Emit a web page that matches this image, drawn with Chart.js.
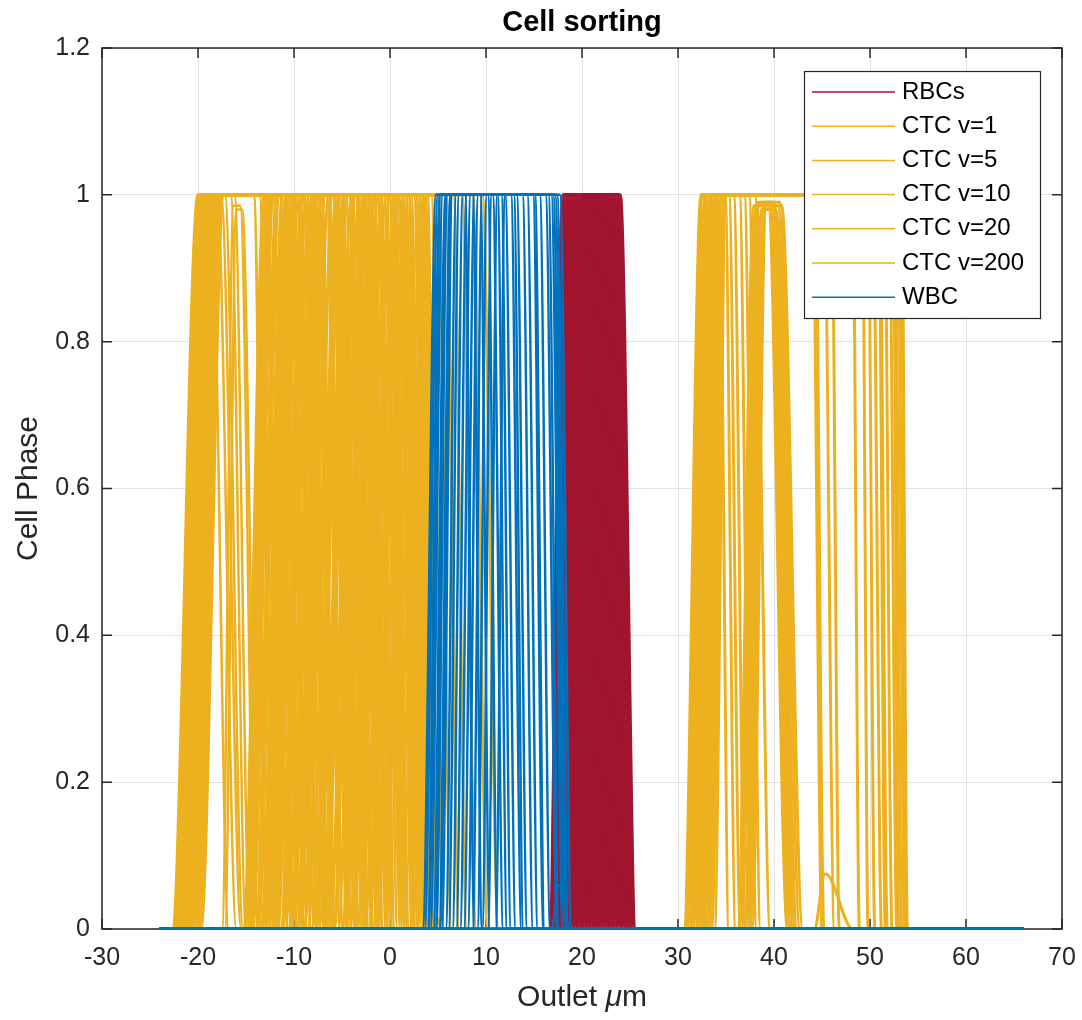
<!DOCTYPE html>
<html>
<head>
<meta charset="utf-8">
<title>Cell sorting</title>
<script src="https://cdn.jsdelivr.net/npm/chart.js@4.4.1/dist/chart.umd.min.js"></script>
<style>
  html, body { margin: 0; padding: 0; background: #fff; }
  canvas { display: block; }
</style>
</head>
<body>
<canvas id="cellChart" width="1082" height="1020"></canvas>
<script>
// Each trace: [rise foot, rise top, fall top, fall foot, peak phase (default 1)]
// positions in outlet µm, phase on the y axis.

const xTicks = [-30, -20, -10, 0, 10, 20, 30, 40, 50, 60, 70];
const yTicks = [0, 0.2, 0.4, 0.6, 0.8, 1, 1.2];

// every trajectory sits on phase 0 from the inlet to the outlet edge
const baseStart = -24;
const baseEnd = 66;

const seriesLabels = ['RBCs', 'CTC v=1', 'CTC v=5', 'CTC v=10', 'CTC v=20', 'CTC v=200', 'WBC'];

const rbcTraces = [
  [16.6, 18.0, 19.8, 21.4], [16.75, 18.15, 19.95, 21.55], [16.9, 18.3, 20.1, 21.7],
  [17.05, 18.45, 20.2, 21.8], [17.2, 18.6, 20.35, 21.95], [17.35, 18.75, 20.5, 22.1],
  [17.5, 18.9, 20.6, 22.2], [17.65, 19.05, 20.75, 22.35], [17.8, 19.2, 20.9, 22.5],
  [17.95, 19.35, 21.0, 22.6], [18.1, 19.5, 21.15, 22.75], [18.25, 19.65, 21.3, 22.9],
  [18.4, 19.8, 21.4, 23.0], [18.55, 19.95, 21.55, 23.15], [18.7, 20.1, 21.7, 23.3],
  [18.85, 20.25, 21.8, 23.4], [19.0, 20.4, 21.95, 23.55], [19.15, 20.55, 22.1, 23.7],
  [19.3, 20.7, 22.2, 23.8], [19.45, 20.85, 22.35, 23.95], [19.6, 21.0, 22.5, 24.1],
  [19.75, 21.15, 22.6, 24.2], [19.9, 21.3, 22.75, 24.35], [20.05, 21.45, 22.9, 24.5],
  [20.2, 21.6, 23.0, 24.6], [20.35, 21.75, 23.15, 24.75], [20.5, 21.9, 23.3, 24.9],
  [20.65, 22.05, 23.4, 25.0], [20.8, 22.2, 23.55, 25.15], [20.95, 22.35, 23.7, 25.3],
  [21.1, 22.5, 23.85, 25.45], [21.25, 22.65, 24.0, 25.6]
];

const ctcV1 = [
  [-22.7, -20.0, -14.2, -12.8], [-22.6, -19.9, -13.6, -12.0], [-22.5, -19.8, -12.9, -11.4],
  [-22.4, -19.7, -12.2, -10.6], [-22.3, -19.6, -11.5, -10.0], [-22.2, -19.5, -10.9, -9.3],
  [-22.0, -19.4, -10.1, -8.6], [-21.9, -19.3, -9.4, -7.9], [-21.8, -19.2, -8.6, -7.2],
  [-21.6, -19.0, -7.9, -6.4], [-21.5, -18.9, -7.1, -5.7], [-21.3, -18.8, -6.4, -4.9],
  [-21.2, -18.6, -5.6, -4.2], [-21.0, -18.5, -4.9, -3.4], [-20.9, -18.4, -4.1, -2.7],
  [-20.7, -18.2, -3.4, -1.9], [-20.6, -18.1, -2.6, -1.2], [-20.4, -17.9, -1.9, -0.4],
  [-20.2, -17.8, -1.1, 0.3], [-20.1, -17.6, -0.4, 1.1], [-19.9, -17.4, 0.4, 1.8],
  [-19.7, -17.3, 1.1, 2.6]
];

const ctcV5 = [
  [-15.3, -13.1, -9.0, -7.6], [-15.1, -12.9, -8.2, -6.8], [-14.9, -12.7, -7.4, -6.0],
  [-14.7, -12.5, -6.6, -5.2], [-14.5, -12.3, -5.8, -4.4], [-14.3, -12.1, -5.0, -3.6],
  [-14.0, -11.8, -4.3, -2.9], [-13.7, -11.5, -3.6, -2.2], [-13.4, -11.2, -2.8, -1.4],
  [-13.0, -10.8, -2.1, -0.7], [-12.6, -10.4, -1.3, 0.1], [-12.2, -10.0, -0.6, 0.8],
  [-11.7, -9.5, 0.2, 1.6], [-11.2, -9.0, 0.9, 2.3], [-10.6, -8.4, 1.6, 3.0],
  [-10.0, -7.8, 2.2, 3.6], [-9.3, -7.1, 2.7, 4.0], [-8.6, -6.4, 3.1, 4.3],
  [-7.8, -5.6, 3.4, 4.6], [-7.0, -4.8, 3.7, 4.8], [-6.2, -4.0, 3.9, 5.0],
  [-5.4, -3.2, 4.3, 5.6], [-4.6, -2.4, 5.0, 6.4], [-3.8, -1.6, 5.8, 7.2],
  [-3.0, -0.8, 6.6, 8.0], [-2.2, 0.0, 7.5, 9.0], [-1.4, 0.8, 8.6, 10.2],
  [-0.6, 1.6, 9.6, 11.3]
];

const ctcV10 = [
  [-22.1, -19.6, -18.6, -16.8], [-21.7, -19.4, -18.0, -16.0], [-21.4, -19.1, -17.6, -15.5],
  [-21.1, -18.9, -17.2, -15.3], [-20.8, -18.7, -16.6, -15.0], [-21.5, -19.0, -16.2, -14.6],
  [-17.5, -16.3, -15.6, -14.0, 0.985], [-17.2, -16.0, -15.4, -13.7, 0.98],
  [-14.6, -12.4, -3.3, -1.8], [-13.1, -10.9, 1.4, 2.9], [-12.1, -9.9, -7.6, -6.1],
  [-11.1, -8.9, 3.3, 4.4], [-10.2, -8.0, -5.2, -3.7], [-9.5, -7.3, 0.0, 1.5],
  [-8.9, -6.7, -4.0, -2.4], [-7.6, -5.4, 2.0, 3.5], [-6.8, -4.6, -2.9, -1.3],
  [-5.9, -3.7, 3.6, 4.5], [-4.9, -2.7, -1.7, -0.1], [-3.9, -1.7, 0.8, 2.4],
  [-2.6, -0.4, 2.8, 4.1], [-1.8, 0.4, 3.5, 4.6], [-22.0, -19.5, -8.3, -6.9],
  [-21.4, -18.9, -2.3, -0.8], [-20.5, -18.0, 1.7, 3.1], [-20.0, -17.6, -6.0, -4.5],
  [-13.5, -12.0, -11.6, -10.2, 0.3], [-12.0, -10.8, -10.4, -9.0, 0.22],
  [-10.5, -9.4, -9.0, -7.6, 0.15], [-9.0, -8.0, -7.5, -6.2, 0.1],
  [2.0, 3.2, 3.5, 5.5, 0.07]
];

const ctcV20 = [
  [-15.2, -13.0, -11.0, -9.6], [-14.8, -12.6, -10.3, -8.9], [-14.4, -12.2, -9.7, -8.2],
  [-13.9, -11.7, -8.9, -7.5], [-13.3, -11.1, -8.0, -6.6], [-12.8, -10.6, -7.2, -5.8],
  [-12.4, -10.2, -6.3, -4.9], [-11.9, -9.7, -5.4, -4.0], [-11.4, -9.2, -4.6, -3.2],
  [-10.9, -8.7, -3.9, -2.5], [-10.3, -8.1, -3.1, -1.7], [-9.7, -7.5, -2.4, -1.0],
  [-9.0, -6.8, -1.6, -0.2], [-8.2, -6.0, -0.9, 0.5], [-7.4, -5.2, -0.1, 1.3],
  [-6.6, -4.4, 0.6, 2.0], [-5.8, -3.6, 1.3, 2.7], [-5.0, -2.8, 1.9, 3.3],
  [-4.2, -2.0, 2.5, 3.8], [-3.4, -1.2, 3.0, 4.2],
  [30.6, 32.4, 36.4, 37.6], [30.8, 32.5, 35.8, 37.0], [31.0, 32.6, 38.0, 39.6],
  [31.2, 32.8, 34.9, 36.0], [31.4, 33.0, 37.4, 38.6], [31.6, 33.2, 34.3, 35.3],
  [31.8, 33.4, 36.9, 38.2], [32.0, 33.6, 44.3, 45.2], [32.2, 33.8, 35.3, 36.5],
  [32.5, 34.0, 46.0, 46.8], [32.8, 34.2, 49.2, 49.8], [33.1, 34.5, 51.0, 51.8],
  [33.4, 34.8, 52.6, 53.3], [33.8, 35.0, 53.2, 53.8]
];

const ctcV200 = [
  [36.2, 37.9, 39.4, 41.4, 0.985], [36.4, 38.1, 39.6, 41.6, 0.985], [36.6, 38.3, 39.8, 41.8, 0.99],
  [36.9, 38.5, 40.0, 42.0, 0.99], [37.1, 38.7, 40.2, 42.2, 0.98], [37.3, 38.9, 40.4, 42.4, 0.985],
  [37.5, 39.1, 40.6, 42.7, 0.99], [37.7, 39.2, 40.8, 43.0, 0.985],
  [32.0, 33.6, 44.0, 45.0], [32.3, 33.9, 45.2, 46.3], [31.5, 33.1, 48.2, 48.9],
  [32.6, 34.1, 49.8, 50.5], [33.0, 34.4, 50.3, 51.2], [31.9, 33.5, 50.9, 51.6],
  [32.4, 34.0, 51.5, 52.3], [33.2, 34.6, 52.0, 52.8], [31.3, 32.9, 52.4, 53.0],
  [32.7, 34.2, 52.9, 53.6], [33.5, 34.9, 53.3, 53.9],
  [44.2, 45.3, 45.4, 48.2, 0.075]
];

const wbcTraces = [
  [3.6, 5.0, 17.2, 18.4], [3.9, 5.2, 16.8, 18.0], [4.2, 5.5, 14.9, 16.0],
  [4.5, 5.8, 17.4, 18.6], [4.8, 6.0, 13.8, 14.9], [5.1, 6.3, 16.2, 17.4],
  [5.4, 6.5, 12.6, 13.7], [5.8, 6.9, 15.6, 16.7], [6.1, 7.2, 11.6, 12.6],
  [6.5, 7.6, 14.3, 15.4], [6.9, 8.0, 10.7, 11.8], [7.3, 8.4, 13.2, 14.3],
  [7.7, 8.8, 12.0, 13.1], [8.1, 9.2, 10.2, 11.2], [8.6, 9.6, 11.2, 12.2],
  [9.1, 10.1, 15.1, 16.1], [9.6, 10.6, 12.9, 13.9], [10.2, 11.2, 16.5, 17.6],
  [4.0, 5.3, 8.6, 9.6], [4.7, 5.9, 9.4, 10.4], [5.2, 6.4, 7.8, 8.8],
  [11.0, 12.0, 17.0, 18.2], [3.4, 4.8, 17.7, 18.9],
  [16.8, 17.6, 17.8, 18.7, 0.06]
];

const FONT = '"Liberation Sans", Arial, Helvetica, sans-serif';
const AXIS_COLOR = '#262626';
const GRID_COLOR = '#e2e2e2';
const RBC_COLOR = '#A2142F';
const CTC_COLOR = '#EDB120';
const WBC_COLOR = '#0072BD';

const groups = [
  { label: seriesLabels[0], traces: rbcTraces, color: RBC_COLOR, width: 3, order: 2 },
  { label: seriesLabels[1], traces: ctcV1, color: CTC_COLOR, width: 3, order: 1 },
  { label: seriesLabels[2], traces: ctcV5, color: CTC_COLOR, width: 3, order: 1 },
  { label: seriesLabels[3], traces: ctcV10, color: CTC_COLOR, width: 2.5, order: 1 },
  { label: seriesLabels[4], traces: ctcV20, color: CTC_COLOR, width: 3, order: 1 },
  { label: seriesLabels[5], traces: ctcV200, color: CTC_COLOR, width: 3, order: 1 },
  { label: seriesLabels[6], traces: wbcTraces, color: WBC_COLOR, width: 2.5, order: 0 }
];

function makeTrace(trace, group) {
  const [riseFoot, riseTop, fallTop, fallFoot, peak = 1] = trace;
  return {
    label: group.label,
    data: [
      { x: baseStart, y: 0 },
      { x: riseFoot, y: 0 },
      { x: riseTop, y: peak },
      { x: fallTop, y: peak },
      { x: fallFoot, y: 0 },
      { x: baseEnd, y: 0 }
    ],
    borderColor: group.color,
    borderWidth: group.width,
    pointRadius: 0,
    fill: false,
    cubicInterpolationMode: 'monotone',
    order: group.order
  };
}

const datasets = groups.flatMap(g => g.traces.map(t => makeTrace(t, g)));

// axes box with inward tick marks, drawn under the data
const framePlugin = {
  id: 'frame',
  beforeDatasetsDraw(chart) {
    const { ctx, chartArea: a, scales: { x, y } } = chart;
    ctx.save();
    ctx.strokeStyle = AXIS_COLOR;
    ctx.lineWidth = 1.5;
    ctx.strokeRect(a.left, a.top, a.right - a.left, a.bottom - a.top);
    ctx.beginPath();
    xTicks.forEach(v => {
      const px = x.getPixelForValue(v);
      ctx.moveTo(px, a.bottom); ctx.lineTo(px, a.bottom - 10);
      ctx.moveTo(px, a.top); ctx.lineTo(px, a.top + 10);
    });
    yTicks.forEach(v => {
      const py = y.getPixelForValue(v);
      ctx.moveTo(a.left, py); ctx.lineTo(a.left + 10, py);
      ctx.moveTo(a.right, py); ctx.lineTo(a.right - 10, py);
    });
    ctx.stroke();
    ctx.restore();
  }
};

// title, axis labels and the legend box
const labelPlugin = {
  id: 'labels',
  afterDraw(chart) {
    const { ctx, chartArea: a } = chart;
    const cx = (a.left + a.right) / 2;
    const cy = (a.top + a.bottom) / 2;
    ctx.save();
    ctx.fillStyle = '#000';
    ctx.textAlign = 'center';
    ctx.textBaseline = 'middle';
    ctx.font = 'bold 29px ' + FONT;
    ctx.fillText('Cell sorting', cx, 23);

    ctx.fillStyle = AXIS_COLOR;
    ctx.font = '30px ' + FONT;
    ctx.save();
    ctx.translate(29, cy);
    ctx.rotate(-Math.PI / 2);
    ctx.fillText('Cell Phase', 0, 0);
    ctx.restore();

    // "Outlet µm" with an italic mu
    const parts = [
      { text: 'Outlet ', font: '30px ' + FONT },
      { text: '\u03BC', font: 'italic 30px ' + FONT },
      { text: 'm', font: '30px ' + FONT }
    ];
    let total = 0;
    parts.forEach(p => { ctx.font = p.font; p.w = ctx.measureText(p.text).width; total += p.w; });
    let px = cx - total / 2;
    ctx.textAlign = 'left';
    parts.forEach(p => { ctx.font = p.font; ctx.fillText(p.text, px, 998); px += p.w; });

    // legend
    const box = { left: 804, top: 71, right: 1040, bottom: 318 };
    ctx.fillStyle = '#fff';
    ctx.fillRect(box.left, box.top, box.right - box.left, box.bottom - box.top);
    ctx.strokeStyle = AXIS_COLOR;
    ctx.lineWidth = 1.2;
    ctx.strokeRect(box.left + 0.5, box.top + 0.5, box.right - box.left, box.bottom - box.top);
    ctx.font = '24px ' + FONT;
    ctx.textBaseline = 'middle';
    groups.forEach((g, i) => {
      const ry = 92 + i * 34.2;
      ctx.strokeStyle = g.color;
      ctx.lineWidth = 1.5;
      ctx.beginPath();
      ctx.moveTo(812, ry);
      ctx.lineTo(895, ry);
      ctx.stroke();
      ctx.fillStyle = '#000';
      ctx.fillText(g.label, 902, ry);
    });
    ctx.restore();
  }
};

Chart.defaults.font.family = FONT;

const tickFormat = v => String(Math.round(v * 10) / 10);

new Chart(document.getElementById('cellChart'), {
  type: 'line',
  data: { datasets },
  options: {
    responsive: false,
    animation: false,
    devicePixelRatio: 1,
    events: [],
    layout: { padding: { left: 0, top: 48, right: 20, bottom: 0 } },
    plugins: {
      legend: { display: false },
      tooltip: { enabled: false },
      title: { display: false }
    },
    scales: {
      x: {
        type: 'linear',
        min: -30,
        max: 70,
        afterBuildTicks: s => { s.ticks = xTicks.map(v => ({ value: v })); },
        afterFit: s => {
          s.height = 91;
          s.paddingLeft = 0;
          s.paddingRight = 0;
        },
        grid: { color: GRID_COLOR, lineWidth: 1, drawTicks: false },
        border: { display: false },
        ticks: {
          color: AXIS_COLOR,
          font: { size: 25 },
          padding: 14,
          maxRotation: 0,
          autoSkip: false,
          callback: tickFormat
        }
      },
      y: {
        type: 'linear',
        min: 0,
        max: 1.2,
        afterBuildTicks: s => { s.ticks = yTicks.map(v => ({ value: v })); },
        afterFit: s => {
          s.width = 102;
          s.paddingTop = 0;
          s.paddingBottom = 0;
        },
        grid: { color: GRID_COLOR, lineWidth: 1, drawTicks: false },
        border: { display: false },
        ticks: {
          color: AXIS_COLOR,
          font: { size: 25 },
          padding: 12,
          autoSkip: false,
          callback: tickFormat
        }
      }
    }
  },
  plugins: [framePlugin, labelPlugin]
});
</script>
</body>
</html>
